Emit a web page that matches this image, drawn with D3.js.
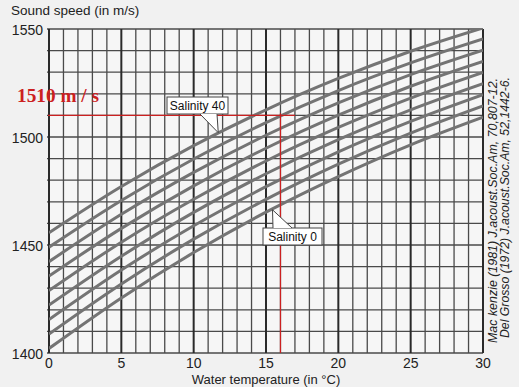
<!DOCTYPE html>
<html><head><meta charset="utf-8">
<script src="https://cdn.jsdelivr.net/npm/d3@7"></script>
<style>body{margin:0;background:#f1f1f1}svg{display:block}</style>
</head><body><svg id="c" width="519" height="387"></svg>
<script>
const temps = [0, 5, 10, 15, 20, 25, 30];
const xTicks = [0, 5, 10, 15, 20, 25, 30];
const yTicks = [1400, 1450, 1500, 1550];
const sal0  = [1402.1, 1425.5, 1446.5, 1465.2, 1481.7, 1496.4, 1509.2];
const sal5  = [1408.8, 1432.0, 1452.7, 1471.1, 1487.4, 1501.8, 1514.4];
const sal10 = [1415.5, 1438.4, 1458.9, 1477.0, 1493.1, 1507.2, 1519.6];
const sal15 = [1422.2, 1444.8, 1465.1, 1483.0, 1498.8, 1512.6, 1524.7];
const sal20 = [1428.9, 1451.3, 1471.2, 1488.9, 1504.4, 1518.0, 1529.9];
const sal25 = [1435.6, 1457.7, 1477.4, 1494.8, 1510.1, 1523.5, 1535.0];
const sal30 = [1442.3, 1464.2, 1483.6, 1500.8, 1515.8, 1528.9, 1540.2];
const sal35 = [1449.0, 1470.6, 1489.8, 1506.7, 1521.5, 1534.3, 1545.4];
const sal40 = [1455.7, 1477.1, 1496.0, 1512.6, 1527.1, 1539.7, 1550.5];
const seriesList = [sal0, sal5, sal10, sal15, sal20, sal25, sal30, sal35, sal40];
const markSpeed = 1510, markTemp = 16;
const callouts = [
  {label: "Salinity 40", t: 11.7, v: 1502.0},
  {label: "Salinity 0", t: 15.45, v: 1466.3}
];

const svg = d3.select("#c");
const L = 49, R = 483, T = 29, B = 353;
const x = d3.scaleLinear().domain([0, 30]).range([L, R]);
const y = d3.scaleLinear().domain([1400, 1550]).range([B, T]);

svg.append("rect").attr("x", L).attr("y", T).attr("width", R - L).attr("height", B - T).attr("fill", "#f6f6f6");
svg.append("defs").append("clipPath").attr("id", "clip")
  .append("rect").attr("x", L).attr("y", T).attr("width", R - L).attr("height", B - T);

// grid
const g = svg.append("g");
g.selectAll(".hy").data(d3.range(1400, 1551, 10)).join("line")
  .attr("x1", L - 2).attr("x2", R).attr("y1", d => y(d)).attr("y2", d => y(d))
  .attr("stroke", "#4a4a4a").attr("stroke-width", 1.3);
g.selectAll(".vx").data(d3.range(0, 31, 1)).join("line")
  .attr("x1", d => x(d)).attr("x2", d => x(d)).attr("y1", T).attr("y2", B)
  .attr("stroke", d => d % 5 === 0 ? "#2a2a2a" : "#4a4a4a")
  .attr("stroke-width", d => d % 5 === 0 ? 2 : 1.3);

// curves
const line = d3.line().x((d, i) => x(temps[i])).y(d => y(d)).curve(d3.curveMonotoneX);
svg.append("g").attr("clip-path", "url(#clip)")
  .selectAll("path").data(seriesList).join("path")
  .attr("d", line).attr("fill", "none").attr("stroke", "#747474").attr("stroke-width", 3);

// red markers
svg.append("line").attr("x1", L - 1).attr("x2", x(17)).attr("y1", y(markSpeed)).attr("y2", y(markSpeed))
  .attr("stroke", "#cc2020").attr("stroke-width", 1.2);
svg.append("line").attr("x1", x(markTemp)).attr("x2", x(markTemp)).attr("y1", y(markSpeed) - 2).attr("y2", B)
  .attr("stroke", "#cc2020").attr("stroke-width", 1.2);
svg.append("text").attr("x", 17).attr("y", 102).text(markSpeed + " m / s")
  .attr("font-family", "Liberation Serif, Times New Roman, serif").attr("font-weight", "bold")
  .attr("font-size", 18).attr("fill", "#cc2020").attr("textLength", 82).attr("lengthAdjust", "spacingAndGlyphs");

// callouts
function callout(c, box, base) {
  const tx = x(c.t), ty = y(c.v);
  const grp = svg.append("g");
  grp.append("rect").attr("x", box[0]).attr("y", box[1]).attr("width", box[2]).attr("height", box[3])
    .attr("fill", "#fff").attr("stroke", "#444").attr("stroke-width", 1);
  grp.append("path").attr("d", `M${base[0]},${base[2]}L${tx},${ty}L${base[1]},${base[2]}Z`)
    .attr("fill", "#fff").attr("stroke", "none");
  grp.append("path").attr("d", `M${base[0]},${base[2]}L${tx},${ty}L${base[1]},${base[2]}`)
    .attr("fill", "none").attr("stroke", "#444").attr("stroke-width", 1);
  grp.append("text").attr("x", box[0] + box[2] / 2).attr("y", box[1] + box[3] / 2 + 4.5)
    .attr("text-anchor", "middle").attr("font-family", "Liberation Sans, Arial, sans-serif")
    .attr("font-size", 12).attr("fill", "#111").text(c.label);
}
callout(callouts[0], [167, 97, 61, 17], [200, 217, 114]);
callout(callouts[1], [263, 228, 59, 17], [273, 292, 228]);

// axis labels
const font = "Liberation Sans, Arial, sans-serif";
svg.append("g").selectAll("text").data(yTicks).join("text")
  .attr("x", 43).attr("y", d => y(d) + 6).attr("text-anchor", "end")
  .attr("font-family", font).attr("font-size", 14).attr("fill", "#222").text(d => d);
svg.append("g").selectAll("text").data(xTicks).join("text")
  .attr("x", d => x(d)).attr("y", 368).attr("text-anchor", "middle")
  .attr("font-family", font).attr("font-size", 14).attr("fill", "#222").text(d => d);
svg.append("text").attr("x", 266).attr("y", 384).attr("text-anchor", "middle")
  .attr("font-family", font).attr("font-size", 13).attr("fill", "#222").text("Water temperature (in °C)");
svg.append("text").attr("x", 11).attr("y", 15)
  .attr("font-family", font).attr("font-size", 13.5).attr("fill", "#222").text("Sound speed (in m/s)");

// references
const refs = [
  {txt: "Mac kenzie (1981) J.acoust.Soc.Am, 70,807-12.", bx: 497, y0: 343, len: 265},
  {txt: "Del Grosso (1972) J.acoust.Soc.Am, 52,1442-6.", bx: 509, y0: 338, len: 261}
];
svg.append("g").selectAll("text").data(refs).join("text")
  .attr("transform", d => `translate(${d.bx},${d.y0}) rotate(-90)`)
  .attr("font-family", font).attr("font-style", "italic").attr("font-size", 12).attr("fill", "#222")
  .attr("textLength", d => d.len).attr("lengthAdjust", "spacingAndGlyphs").text(d => d.txt);
</script></body></html>
